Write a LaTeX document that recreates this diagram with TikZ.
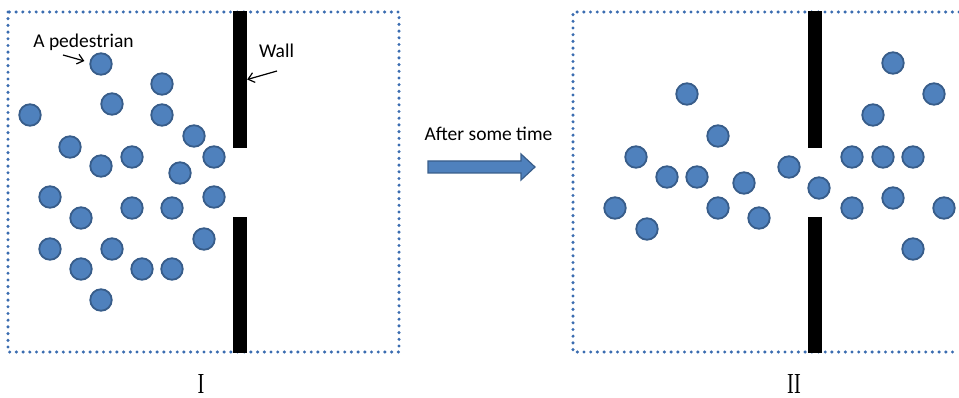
\documentclass[tikz,border=0pt]{standalone}
\usepackage{fontspec}
\setmainfont{Carlito}
\newfontfamily\romanfont{Liberation Serif}
\usetikzlibrary{arrows.meta}
\definecolor{dotblue}{HTML}{3A6CB0}
\definecolor{pedfill}{HTML}{4F81BD}
\definecolor{pededge}{HTML}{385D8A}

\begin{document}
\begin{tikzpicture}[x=1pt,y=-1pt,
  ped/.style={circle, fill=pedfill, draw=pededge, line width=1.8pt, minimum size=21.5pt, inner sep=0pt},
  wallseg/.style={fill=black, inner sep=0pt, minimum width=14pt},
  frame/.style={draw=dotblue, line width=3.4pt, line cap=round, dash pattern=on 0pt off 6.7pt},
  lbl/.style={font=\fontsize{19.5}{22}\selectfont, inner sep=0pt, anchor=base},
  roman/.style={font=\romanfont\fontsize{29}{31}\selectfont, inner sep=0pt, anchor=base},
  pointer/.style={-{Straight Barb[length=6pt,width=10pt]}, line width=1.2pt},
  blockarrow/.style={fill=pedfill, draw=pededge, line width=1.2pt, line join=miter},
]
\useasboundingbox (0,0) rectangle (959,398);

% dotted enclosures
\draw[frame] (8,12) rectangle (399,352);
\draw[frame] (959,12) -- (573,12) -- (573,352) -- (959,352);

% walls with a door gap
\node[wallseg, minimum height=137pt] (wallA) at (240,79.5) {};
\node[wallseg, minimum height=136pt] (wallB) at (240,285) {};
\node[wallseg, minimum height=137pt] (wallC) at (815,79.5) {};
\node[wallseg, minimum height=136pt] (wallD) at (815,285) {};

% pedestrians before
\foreach [count=\i] \pos in {(101,64),(162,84),(112,104),(30,115),(162,115),
  (194,136),(70,147),(214,157),(132,157),(101,166),(180,173),(50,197),
  (81,218),(132,208),(172,208),(214,197),(204,239),(50,249),(112,249),
  (81,269),(142,269),(172,269),(101,300)}
  \node[ped] (p\i) at \pos {};

% pedestrians after
\foreach [count=\i] \pos in {(687,94),(718,136),(636,157),(667,177),(697,177),
  (789,167),(744,183),(819,188),(615,208),(718,208),(647,229),(759,218),
  (893,63),(934,94),(873,115),(852,157),(883,157),(913,157),(852,208),
  (893,198),(944,208),(913,249)}
  \node[ped] (q\i) at \pos {};

% labels
\node[lbl] (pedlbl) at (83.5,48) {A pedestrian};
\node[lbl] (walllbl) at (276.5,58) {Wall};
\node[lbl] (timelbl) at (488.5,141) {After some time};
\node[roman] (stateI) at (201,393.5) {\scalebox{0.7}[1]{I}};
\node[roman] (stateII) at (794,393.5) {\scalebox{0.7}[1]{II}};

% pointers
\coordinate (pedtail) at (63,55);
\coordinate (walltail) at (277,71);
\draw[pointer] (pedtail) -- ([xshift=-5pt,yshift=3pt]p1.west);
\draw[pointer] (walltail) -- (wallA.east);

% block arrow
\draw[blockarrow] (428,161) -- (521,161) -- (521,154) -- (535,167) -- (521,180) -- (521,173) -- (428,173) -- cycle;
\end{tikzpicture}
\end{document}
